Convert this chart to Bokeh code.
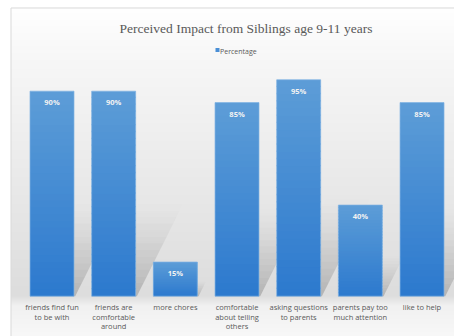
import numpy as np
from bokeh.plotting import figure
from bokeh.models import Range1d, ColumnDataSource
from bokeh.core.properties import value
from bokeh.embed import file_html
from bokeh.resources import INLINE

# ---- data ----
categories = [
    "friends find fun\nto be with",
    "friends are\ncomfortable\naround",
    "more chores",
    "comfortable\nabout telling\nothers",
    "asking questions\nto parents",
    "parents pay too\nmuch attention",
    "like to help",
]
percentages = [90, 90, 15, 85, 95, 40, 85]
value_labels = [f"{v}%" for v in percentages]
series_name = "Percentage"
title_text = "Perceived Impact from Siblings age 9-11 years"

# ---- layout (screen pixels) ----
W, H = 454, 336
SLOT = 61.67      # px between category centres
X0 = 51.5         # px centre of first category
BASE = 295.7      # px of the zero line
UNIT = 2.278      # px per percentage point
BAR_W = 0.713     # bar width as a fraction of a slot

x_start = -X0 / SLOT
x_end = (W - X0) / SLOT
y_end = BASE / UNIT
y_start = (BASE - H) / UNIT


def px_x(px):
    return x_start + px / SLOT


def px_y(py):
    return (BASE - py) / UNIT


p = figure(
    width=W, height=H,
    x_range=Range1d(x_start, x_end), y_range=Range1d(y_start, y_end),
    x_axis_type=None, y_axis_type=None,
    toolbar_location=None, output_backend="svg",
    min_border=0,
)
p.outline_line_color = None
p.grid.visible = False
p.background_fill_color = "white"
p.border_fill_color = "white"

# ---- chart-area background: soft vertical gradient ----
stops_px = [7, 60, 150, 296, 306, 336]
stops_lv = [255, 247, 237, 221, 241, 248]
rows = np.arange(8, H + 1)
levels = np.interp(rows, stops_px, stops_lv)
img = np.zeros((len(rows), 2), dtype=np.uint32)
view = img.view(dtype=np.uint8).reshape((len(rows), 2, 4))
for r, lv in enumerate(levels[::-1]):   # image row 0 is the bottom
    view[r, :, 0] = int(lv)
    view[r, :, 1] = int(lv)
    view[r, :, 2] = int(lv)
    view[r, :, 3] = 255
p.image_rgba(image=[img], x=px_x(10.5), y=px_y(H), dw=px_x(W) - px_x(10.5), dh=px_y(7) - px_y(H))

# chart border (left and top edges)
p.segment(x0=[px_x(10.5), px_x(10.5)], y0=[px_y(7.5), px_y(7.5)],
          x1=[px_x(10.5), px_x(W)], y1=[px_y(H), px_y(7.5)],
          line_color="#d9d9d9", line_width=1)

xs = np.arange(len(percentages)) + 0.0

# ---- perspective shadows: each bar sheared up and to the right, fading out ----
SKEW = 0.5 * UNIT / SLOT   # x shift (data units) per value unit of height
BANDS = 14
sh_xs, sh_ys, sh_alpha = [], [], []
for i, v in enumerate(percentages):
    h_max = 0.45 * v
    xl, xr = xs[i] - BAR_W / 2, xs[i] + BAR_W / 2
    for k in range(BANDS):
        h1, h2 = h_max * k / BANDS, h_max * (k + 1) / BANDS
        sh_xs.append([xl + SKEW * h1, xr + SKEW * h1 + 0.02, xr + SKEW * h2 + 0.02, xl + SKEW * h2])
        sh_ys.append([h1, h1, h2, h2])
        sh_alpha.append(0.36 * (1 - (k + 0.5) / BANDS) ** 1.3)
p.patches(xs="xs", ys="ys", fill_color="#6a6a6a", fill_alpha="a", line_color=None,
          source=ColumnDataSource(dict(xs=sh_xs, ys=sh_ys, a=sh_alpha)))

# ---- bars with a vertical gradient, built from stacked slices ----
N = 30
top_rgb = np.array([93, 157, 215])
bot_rgb = np.array([44, 121, 206])
seg_x, seg_b, seg_t, seg_c = [], [], [], []
for i, v in enumerate(percentages):
    for k in range(N):
        f = (k + 0.5) / N
        c = bot_rgb + (top_rgb - bot_rgb) * f
        seg_x.append(xs[i])
        seg_b.append(v * k / N)
        seg_t.append(min(v, v * (k + 1) / N + 0.6))
        seg_c.append("#%02x%02x%02x" % tuple(int(round(t)) for t in c))
p.vbar(x="x", bottom="b", top="t", width=BAR_W, fill_color="c", line_color=None,
       source=ColumnDataSource(dict(x=seg_x, b=seg_b, t=seg_t, c=seg_c)))
p.vbar(x=xs, bottom=0, top=percentages, width=BAR_W, fill_color=None,
       line_color="#7fb2e3", line_width=1, line_alpha=0.7)

# value labels inside the bars
p.text(x=xs, y=percentages, text=value_labels, y_offset=11,
       text_align="center", text_baseline="middle",
       text_font=value("Open Sans"), text_font_size="7.5px", text_font_style="bold",
       text_color="#f2f2f2")

# category labels under the bars
p.text(x=xs, y=[0] * len(xs), text=categories, y_offset=6,
       text_align="center", text_baseline="top", text_line_height=0.95,
       text_font=value("Open Sans"), text_font_size="7.5px", text_color="#595959")

# title
p.text(x=[px_x(245.5)], y=[px_y(28)], text=[title_text],
       text_align="center", text_baseline="middle",
       text_font=value("Liberation Serif"), text_font_size="13.5px", text_color="#595959")

# legend
p.scatter(x=[px_x(217)], y=[px_y(49.5)], marker="square", size=4,
          fill_color="#4a8fd6", line_color=None)
p.text(x=[px_x(219.5)], y=[px_y(50.5)], text=[series_name],
       text_align="left", text_baseline="middle",
       text_font=value("Open Sans"), text_font_size="7px", text_color="#595959")

open("out.html", "w").write(file_html(p, INLINE))
